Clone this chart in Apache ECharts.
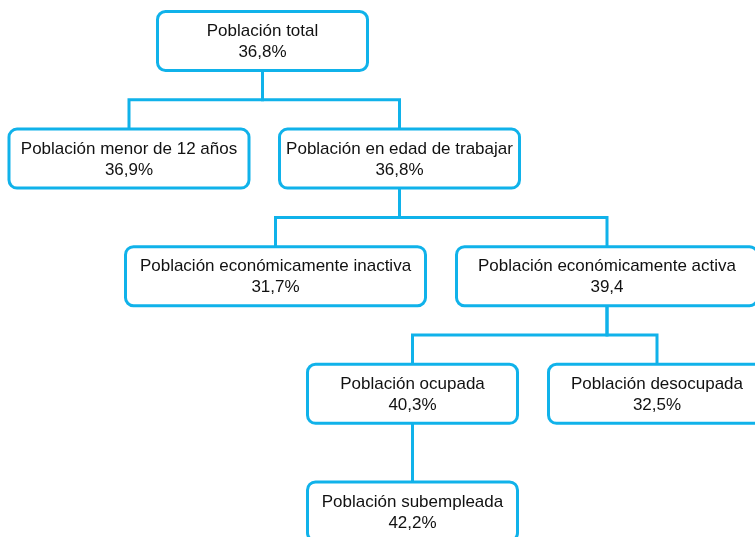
<!DOCTYPE html>
<html><head><meta charset="utf-8">
<script src="https://cdn.jsdelivr.net/npm/echarts@6/dist/echarts.min.js"></script>
<style>html,body{margin:0;padding:0;background:#fff;overflow:hidden}#c{width:755px;height:537px}</style>
</head><body><div id="c"></div>
<script>
// ---- data ----
const nodeNames = [
  'Población total',
  'Población menor de 12 años',
  'Población en edad de trabajar',
  'Población económicamente inactiva',
  'Población económicamente activa',
  'Población ocupada',
  'Población desocupada',
  'Población subempleada'
];
const nodeValues = [36.8, 36.9, 36.8, 31.7, 39.4, 40.3, 32.5, 42.2];
const valueUnits = ['%', '%', '%', '%', '', '%', '%', '%'];
const nodeParents = [-1, 0, 0, 2, 2, 4, 4, 5];

// ---- layout (not data) ----
const boxCenterX = [262.5, 129, 399.5, 275.5, 607, 412.5, 657, 412.5];
const boxWidth = [213, 243, 243, 303, 304, 213, 220, 213];
const BOX_H = 62;
const BLUE = '#10b2ea';

function hasFont(f) {
  const ctx = document.createElement('canvas').getContext('2d');
  const s = 'Población abcdefghijklm 36,8%';
  ctx.font = '40px monospace';
  const a = ctx.measureText(s).width;
  ctx.font = "40px '" + f + "', monospace";
  return ctx.measureText(s).width !== a;
}
let FONT = "21px 'Liberation Sans Narrow', sans-serif";
if (!hasFont('Liberation Sans Narrow')) FONT = "17px 'Liberation Sans', Arial, sans-serif";

const depth = nodeParents.map(function (p, i) {
  let d = 0, k = i;
  while (nodeParents[k] >= 0) { d++; k = nodeParents[k]; }
  return d;
});
const fmt = function (v, u) { return v.toFixed(1).replace('.', ',') + u; };

const boxData = nodeNames.map(function (n, i) { return [boxCenterX[i], depth[i], i]; });
const linkData = [];
nodeParents.forEach(function (p, i) { if (p >= 0) linkData.push([boxCenterX[i], depth[i], i]); });

const chart = echarts.init(document.getElementById('c'), null, { renderer: 'canvas' });
chart.setOption({
  animation: false,
  backgroundColor: '#fff',
  grid: { left: 0, right: 0, top: 0, bottom: 0 },
  xAxis: { type: 'value', min: 0, max: 755, show: false },
  yAxis: { type: 'value', inverse: true, min: -0.3486, max: 4.2177, show: false },
  series: [
    {
      type: 'custom',
      clip: false,
      z: 1,
      data: linkData,
      renderItem: function (params, api) {
        const i = api.value(2);
        const p = nodeParents[i];
        const pd = depth[p], cd = depth[i];
        const pts = [
          api.coord([boxCenterX[p], pd]),
          api.coord([boxCenterX[p], pd + 0.5]),
          api.coord([boxCenterX[i], pd + 0.5]),
          api.coord([boxCenterX[i], cd])
        ];
        return {
          type: 'polyline',
          shape: { points: pts },
          style: { stroke: BLUE, lineWidth: 3, fill: null, lineJoin: 'miter' }
        };
      }
    },
    {
      type: 'custom',
      clip: false,
      z: 2,
      data: boxData,
      renderItem: function (params, api) {
        const i = api.value(2);
        const c = api.coord([api.value(0), api.value(1)]);
        const w = api.size([boxWidth[i], 0])[0];
        const h = BOX_H;
        return {
          type: 'group',
          children: [
            {
              type: 'rect',
              shape: { x: c[0] - w / 2 + 1.5, y: c[1] - h / 2 + 1.5, width: w - 3, height: h - 3, r: 8 },
              style: { fill: '#fff', stroke: BLUE, lineWidth: 3 }
            },
            {
              type: 'text',
              x: c[0], y: c[1] + 1,
              style: {
                text: nodeNames[i] + '\n' + fmt(nodeValues[i], valueUnits[i]),
                font: FONT,
                fill: '#111',
                align: 'center',
                verticalAlign: 'middle',
                lineHeight: 21
              }
            }
          ]
        };
      }
    }
  ]
});
</script>
</body></html>
